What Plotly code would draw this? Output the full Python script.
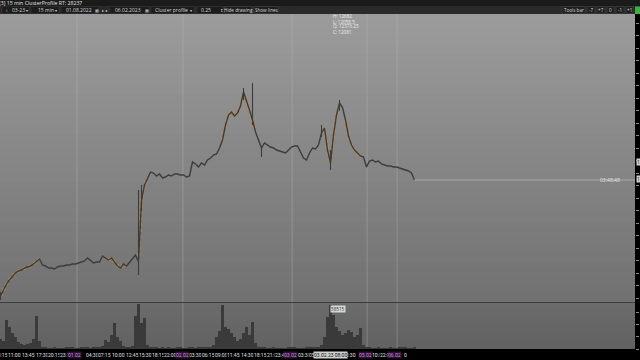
import plotly.graph_objects as go

# ---------------- data (15-min bars, sampled) ----------------
close = [
    11018, 11066, 11114, 11146, 11178, 11202, 11218, 11226, 11242, 11250,
    11258, 11274, 11298, 11314, 11266, 11258, 11242, 11242, 11234, 11250,
    11258, 11258, 11266, 11266, 11274, 11274, 11282, 11290, 11298, 11322,
    11298, 11282, 11290, 11290, 11338, 11322, 11306, 11322, 11290, 11258,
    11242, 11274, 11258, 11290, 11322, 11346, 11290, 11786, 11906, 11962,
    12010, 12002, 11978, 11994, 11962, 11970, 11986, 11978, 11994, 11994,
    11986, 11986, 11970, 11978, 12090, 12074, 12050, 12082, 12066, 12106,
    12122, 12146, 12154, 12202, 12266, 12386, 12466, 12490, 12458, 12482,
    12538, 12650, 12586, 12506, 12426, 12330, 12266, 12202, 12242, 12226,
    12210, 12202, 12186, 12178, 12170, 12162, 12186, 12210, 12218, 12218,
    12170, 12122, 12106, 12162, 12202, 12194, 12226, 12322, 12362, 12186,
    12081, 12306, 12466, 12562, 12526, 12426, 12298, 12226, 12186, 12162,
    12138, 12130, 12050, 12098, 12106, 12090, 12098, 12074, 12066, 12058,
    12058, 12050, 12050, 12042, 12034, 12026, 12018, 12002, 11946,
]

volume = [
    13300, 10640, 38570, 29260, 21280, 15960, 9310, 6650, 5320, 6650,
    7980, 13300, 43890, 10640, 2660, 2000, 1330, 1330, 1500, 1200,
    1330, 1100, 1400, 2000, 1600, 1200, 1300, 1500, 1400, 1700,
    1200, 2100, 2600, 3000, 4000, 12000, 9300, 18600, 34600, 16000,
    10600, 4000, 2700, 3100, 4200, 43900, 60500, 34600, 41200, 5300,
    2700, 1800, 1500, 1300, 1600, 1200, 1400, 1000, 1300, 1700,
    1500, 1200, 1100, 1400, 1600, 1300, 1500, 1800, 2000, 2400,
    2900, 5300, 16000, 24000, 58000, 29300, 26600, 21300, 16000, 10600,
    13300, 21300, 29300, 18600, 35900, 8000, 2700, 1900, 1500, 1300,
    1200, 1400, 1100, 1000, 1300, 1200, 1500, 1700, 1400, 1200,
    1100, 1300, 1600, 1800, 2100, 2500, 3200, 5000, 16000, 42600,
    58515, 45200, 29300, 24000, 18600, 21300, 25300, 22600, 16000, 18600,
    27900, 5300, 2000, 1600, 1300, 1200, 1500, 1100, 1000, 1300,
    1400, 1200, 1100, 1500, 1800, 1600, 1300, 1200, 2200,
]

wick_bars = [0, 46, 47, 81, 84, 87, 107, 110, 113]
wick_high = [11050, 11866, 11906, 12682, 12722, 12202, 12386, 12186, 12586]
wick_low = [10986, 11186, 11700, 12586, 12386, 12130, 12290, 12026, 12500]

highlight_ranges = [(0, 13), (36, 42), (46, 49), (74, 80), (81, 85), (108, 113), (115, 120)]

time_labels = ["08:15", "11:00", "13:45", "17:30", "20:15", "23:15", "04:30", "07:15",
               "10:00", "12:45", "15:30", "18:15", "22:00", "03:30", "06:15", "09:00",
               "11:45", "14:30", "18:15", "21:00", "23:45", "03:30", "05:15", "13:30",
               "10:00", "22:00", "0"]
time_pos = [0.2, 4.7, 9.2, 13.9, 18.0, 22.0, 30.6, 34.6, 39.3, 44.0, 48.3, 52.5, 56.7,
            65.0, 69.2, 73.8, 77.6, 82.2, 86.5, 91.0, 93.6, 101.3, 105.0, 116.3,
            126.0, 128.6, 135.0]
date_labels = ["01.02", "02.02", "03.02", "05.02", "06.02"]
date_pos = [24.5, 60.7, 96.8, 121.7, 131.2]
day_breaks = [25.5, 60.8, 97.2, 122.2, 132.2]

hover_time = "03.02.23 08:00"
hover_bar = 110
hover_info = ["H: 12682", "L: 12058.5", "O: 12376.25", "C: 12081"]
hover_volume = "58515"
timer_text = "03:48:48"

# ---------------- helpers for chrome (pixel -> paper) ----------------
W, H = 640, 360
def px(x):
    return x / W
def py(y):
    return 1 - y / H

X_RANGE = [-0.17, 211.5]
PRICE_RANGE = [10970, 13274]
VOL_RANGE = [0, 61180]
FONT = "Open Sans"
AXFONT = "Roboto"

fig = go.Figure()

# orange cluster highlight (under the price line)
orange_y = [None] * len(close)
for a, b in highlight_ranges:
    for i in range(a, b + 1):
        if i < len(close):
            orange_y[i] = close[i]
fig.add_trace(go.Scatter(x=list(range(len(close))), y=orange_y, mode="lines",
                         line=dict(color="rgba(205,140,60,0.8)", width=3, dash="dot"),
                         connectgaps=False, hoverinfo="skip"))

# high/low wicks
wx, wy = [], []
for b, hi, lo in zip(wick_bars, wick_high, wick_low):
    wx += [b, b, None]
    wy += [lo, hi, None]
fig.add_trace(go.Scatter(x=wx, y=wy, mode="lines",
                         line=dict(color="#3c3c3c", width=1.1), hoverinfo="skip"))

# price line
fig.add_trace(go.Scatter(x=list(range(len(close))), y=close, mode="lines",
                         line=dict(color="#3c3c3c", width=1.4), hoverinfo="skip"))

# volume
fig.add_trace(go.Bar(x=list(range(len(volume))), y=volume, width=1.0,
                     marker=dict(color="#3a3a3a", line=dict(width=0)),
                     xaxis="x2", yaxis="y2", hoverinfo="skip"))

shapes = []
def gradient(top, bot, n, c0, c1):
    for k in range(n):
        y0 = top + (bot - top) * k / n
        y1 = top + (bot - top) * (k + 1) / n + (0.6 if k < n - 1 else 0)
        c = round(c0 + (c1 - c0) * (k + 0.5) / n)
        shapes.append(dict(type="rect", xref="paper", yref="paper", x0=0, x1=px(635),
                           y0=py(y1), y1=py(y0), fillcolor=f"rgb({c},{c},{c})",
                           line=dict(width=0), layer="below"))

gradient(14, 302, 36, 156, 113)
gradient(302, 349, 47, 108, 97)

# panel separator
shapes.append(dict(type="line", xref="paper", yref="paper", x0=0, x1=px(635),
                   y0=py(302.5), y1=py(302.5), line=dict(color="#3c3c3c", width=1)))
# day separators
for d in day_breaks:
    shapes.append(dict(type="line", xref="x", yref="paper", x0=d, x1=d,
                       y0=py(349), y1=py(14),
                       line=dict(color="rgba(190,190,190,0.35)", width=1), layer="below"))
# last price line
shapes.append(dict(type="line", xref="x", yref="y", x0=len(close) - 1, x1=X_RANGE[1],
                   y0=close[-1], y1=close[-1],
                   line=dict(color="rgba(200,200,200,0.55)", width=1)))
# top bars
shapes.append(dict(type="rect", xref="paper", yref="paper", x0=0, x1=1, y0=py(6), y1=1,
                   fillcolor="#1b1b1b", line=dict(width=0)))
shapes.append(dict(type="rect", xref="paper", yref="paper", x0=0, x1=1, y0=py(14), y1=py(6),
                   fillcolor="#2a2a2a", line=dict(width=0)))
# toolbar boxes
boxes = [(2, 29), (31, 59), (61, 98), (110, 149), (151, 194), (197, 223)]
for a, b in boxes:
    shapes.append(dict(type="rect", xref="paper", yref="paper", x0=px(a), x1=px(b),
                       y0=py(13.5), y1=py(6.5), fillcolor="#1c1c1c",
                       line=dict(color="#3a3a3a", width=0.5)))
buttons = [(225, 252), (254, 278), (562, 585), (587, 595), (597, 605), (607, 614),
           (616, 624), (626, 633)]
for a, b in buttons:
    shapes.append(dict(type="rect", xref="paper", yref="paper", x0=px(a), x1=px(b),
                       y0=py(13.5), y1=py(6.5), fillcolor="#1f1f1f",
                       line=dict(color="#4a4a4a", width=0.5)))
shapes.append(dict(type="rect", xref="paper", yref="paper", x0=px(635), x1=1,
                   y0=py(14), y1=py(6.5), fillcolor="#3cb043", line=dict(width=0)))

ann = []
def text(x, y, s, size=5, color="#d8d8d8", anchor="left", bg=None, yanchor="middle"):
    d = dict(x=px(x), y=py(y), xref="paper", yref="paper", text=s, showarrow=False,
             xanchor=anchor, yanchor=yanchor,
             font=dict(size=size, color=color, family=FONT))
    if bg:
        d["bgcolor"] = bg
        d["borderpad"] = 0
    ann.append(d)

text(-3, 2.6, "[3] 15 min ClusterProfile RT: 28237", size=5.2, color="#e6e6e6")
text(4, 10, "‹", size=5)
text(10, 10, "03-23", size=5)
text(24, 10, "▾", size=4)
text(36, 10, "15 min", size=5)
text(53, 10, "▾", size=4)
text(64, 10, "01.08.2022", size=5)
text(93, 10, "▦", size=4)
text(100, 10, "▸ ◂", size=4)
text(113, 10, "06.02.2023", size=5)
text(143, 10, "▦", size=4)
text(153, 10, "Cluster profile", size=5)
text(188, 10, "▾", size=4)
text(213, 10, "0.25", size=5, anchor="right")
text(218, 10, "⇕", size=4)
text(238.5, 10, "Hide drawing", size=4.6, anchor="center")
text(266, 10, "Show lines", size=4.6, anchor="center")
text(573.5, 10, "Tools bar", size=4.6, anchor="center")
for s, c in [("-7", 591), ("+7", 601), ("0", 610.5), ("-1", 620), ("+1", 629.5)]:
    text(c, 10, s, size=4.6, anchor="center")

# info box of hovered bar
for k, s in enumerate(hover_info):
    text(331, 16.5 + 5 * k, s, size=4.6, color="#f0f0f0")

# right price markers (cut off by the window edge)
text(635.5, 162, "12682", size=5, color="#111", bg="#d0d0d0")
text(635.5, 178.5, "11946", size=5, color="#111", bg="#d0d0d0")
ann.append(dict(x=X_RANGE[1] - 4.3, y=close[-1], xref="x", yref="y", text=timer_text,
                showarrow=False, xanchor="right", yanchor="middle",
                font=dict(size=5, color="#e8e8e8", family=FONT)))
ann.append(dict(x=hover_bar - 0.2, y=volume[hover_bar], xref="x2", yref="y2",
                text=hover_volume, showarrow=False, xanchor="left", yanchor="top",
                bgcolor="#d6d6d6", borderpad=0,
                font=dict(size=4.6, color="#333", family=FONT)))

# bottom time axis labels
for s, p in zip(time_labels, time_pos):
    ann.append(dict(x=p, y=py(354.5), xref="x", yref="paper", text=s, showarrow=False,
                    xanchor="center", yanchor="middle", bgcolor="#000000", borderpad=0,
                    font=dict(size=5, color="#e0e0e0", family=AXFONT)))
for s, p in zip(date_labels, date_pos):
    ann.append(dict(x=p, y=py(354.5), xref="x", yref="paper", text=s, showarrow=False,
                    xanchor="center", yanchor="middle", bgcolor="#2a1230", borderpad=0,
                    font=dict(size=5, color="#d98be0", family=AXFONT)))
ann.append(dict(x=hover_bar, y=py(354.5), xref="x", yref="paper", text=hover_time,
                showarrow=False, xanchor="center", yanchor="middle", bgcolor="#cfcfcf",
                borderpad=0, font=dict(size=5, color="#111", family=AXFONT)))

fig.update_layout(
    width=W, height=H, margin=dict(l=0, r=0, t=0, b=0),
    paper_bgcolor="#000000", plot_bgcolor="rgba(0,0,0,0)", showlegend=False,
    bargap=0,
    xaxis=dict(domain=[0, 635 / 640], range=X_RANGE, visible=False, anchor="y"),
    xaxis2=dict(domain=[0, 635 / 640], range=X_RANGE, visible=False, anchor="y2",
                matches="x"),
    yaxis=dict(domain=[py(302), py(14)], range=PRICE_RANGE, side="right", anchor="x",
               showgrid=False, zeroline=False, showticklabels=False, ticks="outside",
               ticklen=3, tickcolor="#8a8a8a", tick0=11000, dtick=100, showline=False),
    yaxis2=dict(domain=[py(349), py(303)], range=VOL_RANGE, side="right", anchor="x2",
                showgrid=False, zeroline=False, showticklabels=False, ticks="outside",
                ticklen=3, tickcolor="#8a8a8a", dtick=16000, showline=False),
    shapes=shapes, annotations=ann,
)

fig.write_html("out.html")
